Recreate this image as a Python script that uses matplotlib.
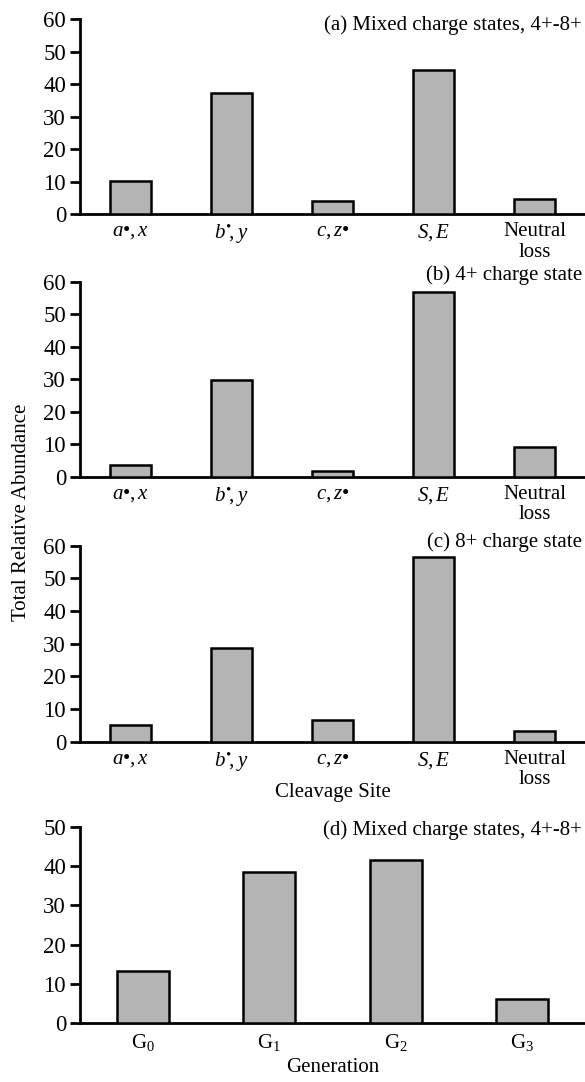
import matplotlib
matplotlib.use("Agg")
import matplotlib.pyplot as plt
import numpy as np

plt.rcParams['font.family'] = ['Liberation Serif', 'DejaVu Serif']
plt.rcParams['mathtext.fontset'] = 'custom'
plt.rcParams['mathtext.rm'] = 'Liberation Serif'
plt.rcParams['mathtext.it'] = 'Liberation Serif:italic'

# cleavage site data (panels a-c)
sites = [r'$a$•$,x$', r'$b^{•}\!,y$', r'$c,z$•', r'$S,E$', 'Neutral\nloss']
mixed = [10.2, 37.2, 4.0, 44.3, 4.6]
charge4 = [3.6, 29.8, 1.7, 56.8, 9.1]
charge8 = [5.1, 28.8, 6.6, 56.4, 3.3]

# generation data (panel d)
gens = [r'$\mathrm{G}_0$', r'$\mathrm{G}_1$', r'$\mathrm{G}_2$', r'$\mathrm{G}_3$']
gen_mixed = [13.4, 38.6, 41.5, 6.2]

titles = ['(a) Mixed charge states, 4+-8+', '(b) 4+ charge state',
          '(c) 8+ charge state', '(d) Mixed charge states, 4+-8+']

fig = plt.figure(figsize=(5.85, 10.82), dpi=100)
W, H = 585., 1082.
left = 80 / W
# (top pixel, bottom pixel) of each axes
boxes = [(19, 214), (282, 476.7), (545.7, 741.7), (826.7, 1023.3)]
title_y = [25, 275, 542, 830]

def panel(ax, labels, vals, ymax, step, width):
    x = np.arange(len(vals))
    ax.bar(x, vals, width=width, color='#b4b4b4', edgecolor='black', linewidth=1.8, zorder=3)
    ax.set_xlim(-0.5, len(vals) - 0.5)
    ax.set_ylim(0, ymax)
    ax.set_yticks(np.arange(0, ymax + 1, step))
    ax.set_xticks(x)
    ax.set_xticklabels(labels, fontsize=15, linespacing=1.1)
    ax.tick_params(axis='x', length=0, pad=6)
    ax.tick_params(axis='y', length=7, width=2, labelsize=16.5, pad=3)
    for s in ['top', 'right']:
        ax.spines[s].set_visible(False)
    for s in ['left', 'bottom']:
        ax.spines[s].set_linewidth(2)

axes = []
for i, (t, b) in enumerate(boxes):
    ax = fig.add_axes([left, 1 - b / H, 1 - left, (b - t) / H])
    axes.append(ax)

panel(axes[0], sites, mixed, 60, 10, 0.415)
panel(axes[1], sites, charge4, 60, 10, 0.415)
panel(axes[2], sites, charge8, 60, 10, 0.415)
panel(axes[3], gens, gen_mixed, 50, 10, 0.41)

for t, y in zip(titles, title_y):
    fig.text(582 / W, 1 - y / H, t, ha='right', va='center', fontsize=15)

xc = (80 + 585) / 2 / W
fig.text(xc, 1 - 792 / H, 'Cleavage Site', ha='center', va='center', fontsize=15)
fig.text(xc, 1 - 1068 / H, 'Generation', ha='center', va='center', fontsize=15)
fig.text(22 / W, 1 - 512 / H, 'Total Relative Abundance', rotation=90,
         ha='center', va='center', fontsize=15)

fig.savefig('out.png', dpi=100)
